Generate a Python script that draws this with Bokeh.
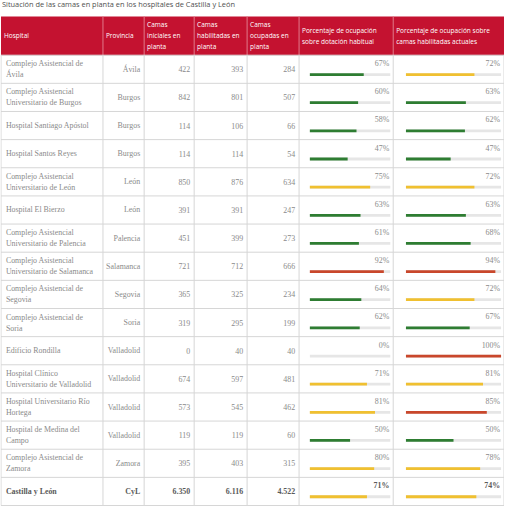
from bokeh.plotting import figure
from bokeh.models import Range1d, ColumnDataSource
from bokeh.core.properties import value
from bokeh.embed import file_html
from bokeh.resources import INLINE

# ---------------- data ----------------
title = "Situación de las camas en planta en los hospitales de Castilla y León"
headers = [
    ["Hospital"],
    ["Provincia"],
    ["Camas", "iniciales en", "planta"],
    ["Camas", "habilitadas en", "planta"],
    ["Camas", "ocupadas en", "planta"],
    ["Porcentaje de ocupación", "sobre dotación habitual"],
    ["Porcentaje de ocupación sobre", "camas habilitadas actuales"],
]
hospitals = [
    "Complejo Asistencial de Ávila",
    "Complejo Asistencial Universitario de Burgos",
    "Hospital Santiago Apóstol",
    "Hospital Santos Reyes",
    "Complejo Asistencial Universitario de León",
    "Hospital El Bierzo",
    "Complejo Asistencial Universitario de Palencia",
    "Complejo Asistencial Universitario de Salamanca",
    "Complejo Asistencial de Segovia",
    "Complejo Asistencial de Soria",
    "Edificio Rondilla",
    "Hospital Clínico Universitario de Valladolid",
    "Hospital Universitario Río Hortega",
    "Hospital de Medina del Campo",
    "Complejo Asistencial de Zamora",
    "Castilla y León",
]
provinces = ["Ávila", "Burgos", "Burgos", "Burgos", "León", "León", "Palencia",
             "Salamanca", "Segovia", "Soria", "Valladolid", "Valladolid",
             "Valladolid", "Valladolid", "Zamora", "CyL"]
beds_initial = [422, 842, 114, 114, 850, 391, 451, 721, 365, 319, 0, 674, 573, 119, 395, 6350]
beds_enabled = [393, 801, 106, 114, 876, 391, 399, 712, 325, 295, 40, 597, 545, 119, 403, 6116]
beds_occupied = [284, 507, 66, 54, 634, 247, 273, 666, 234, 199, 40, 481, 462, 60, 315, 4522]
pct_usual = [67, 60, 58, 47, 75, 63, 61, 92, 64, 62, 0, 71, 81, 50, 80, 71]
pct_enabled = [72, 63, 62, 47, 72, 63, 68, 94, 72, 67, 100, 81, 85, 50, 78, 74]

# ---------------- style / layout ----------------
RED = "#c41230"
GREEN = "#2e7d32"
YELLOW = "#f0c030"
ORANGE = "#c9472b"
TRACK = "#e6e6e6"
GRID = "#d6d6d6"
TXT = "#8a8a8a"
SERIF = value("Liberation Serif")
SANS = value("Open Sans")

col_edges = [3, 107, 149, 200, 254, 307, 403, 516]
head_top, head_bot = 22, 61
n = len(hospitals)
row_h = (514 - head_bot) / n
row_tops = [head_bot + i * row_h for i in range(n)]


def wrap(s, maxc=27):
    words, lines, cur = s.split(), [], ""
    for w in words:
        if cur and len(cur) + 1 + len(w) > maxc:
            lines.append(cur)
            cur = w
        else:
            cur = (cur + " " + w).strip()
    lines.append(cur)
    return lines


def fmt(v):
    return f"{v:,}".replace(",", ".")


def color(p):
    if p >= 85:
        return ORANGE
    if p >= 70:
        return YELLOW
    return GREEN


p = figure(width=504, height=507, output_backend="svg", toolbar_location=None,
           x_range=Range1d(2.5, 516.5), y_range=Range1d(516, 6), min_border=0)
p.axis.visible = False
p.grid.visible = False
p.outline_line_color = None
p.background_fill_color = "white"
p.border_fill_color = "white"

# title
p.text(x=[4], y=[10], text=[title], text_font=SANS, text_font_size="7.4px",
       text_color="#505050", text_baseline="middle", text_font_style="normal")

# header band
p.quad(left=[col_edges[0]], right=[col_edges[-1]], top=[head_top], bottom=[head_bot],
       fill_color=RED, line_color=None)
# header separators
p.segment(x0=col_edges[1:-1], x1=col_edges[1:-1], y0=[head_top] * 6, y1=[head_bot] * 6,
          line_color="#e07a8a", line_width=1)

hx, hy, ht = [], [], []
for ci, lines in enumerate(headers):
    k = len(lines)
    for li, line in enumerate(lines):
        hx.append(col_edges[ci] + 3)
        hy.append((head_top + head_bot) / 2 + (li - (k - 1) / 2) * 11)
        ht.append(line)
p.text(x=hx, y=hy, text=ht, text_font=SANS, text_font_size="6.5px",
       text_color="white", text_baseline="middle")

# body grid
xs0 = [col_edges[0]] * (n + 1)
xs1 = [col_edges[-1]] * (n + 1)
ys = [head_bot + i * row_h for i in range(n + 1)]
p.segment(x0=xs0, x1=xs1, y0=ys, y1=ys, line_color=GRID, line_width=1)
p.segment(x0=col_edges, x1=col_edges, y0=[head_bot] * len(col_edges),
          y1=[ys[-1]] * len(col_edges), line_color=GRID, line_width=1)

# body text
nx, ny, nt, nst, nc = [], [], [], [], []
rx, ry, rt, rst, rc = [], [], [], [], []
for i in range(n):
    top = row_tops[i]
    mid = top + row_h / 2
    total = i == n - 1
    style = "bold" if total else "normal"
    col = "#5a5a5a" if total else TXT
    lines = wrap(hospitals[i])
    k = len(lines)
    for li, line in enumerate(lines):
        nx.append(col_edges[0] + 5)
        ny.append(mid + (li - (k - 1) / 2) * 11)
        nt.append(line)
        nst.append(style)
        nc.append(col)
    vals = [provinces[i], fmt(beds_initial[i]), fmt(beds_enabled[i]), fmt(beds_occupied[i])]
    for cj, v in enumerate(vals):
        rx.append(col_edges[cj + 2] - 4)
        ry.append(mid)
        rt.append(v)
        rst.append(style)
        rc.append(col)
    for cj, pc in ((5, pct_usual[i]), (6, pct_enabled[i])):
        rx.append(col_edges[cj + 1] - 4)
        ry.append(top + 8.5)
        rt.append(f"{pc}%")
        rst.append(style)
        rc.append(col)

p.text(x="x", y="y", text="t", text_font_style="s", text_color="c",
       source=ColumnDataSource(dict(x=nx, y=ny, t=nt, s=nst, c=nc)),
       text_font=SERIF, text_font_size="7.9px", text_baseline="middle")
p.text(x="x", y="y", text="t", text_font_style="s", text_color="c",
       source=ColumnDataSource(dict(x=rx, y=ry, t=rt, s=rst, c=rc)),
       text_font=SERIF, text_font_size="7.9px", text_baseline="middle",
       text_align="right")

# bars
for cj, pcts in ((5, pct_usual), (6, pct_enabled)):
    x0 = col_edges[cj] + (11 if cj == 5 else 13)
    x1 = col_edges[cj + 1] - 3
    w = x1 - x0
    ybar = [t + 19.5 for t in row_tops]
    p.hbar(y=ybar, left=[x0] * n, right=[x1] * n, height=2.8,
           fill_color=TRACK, line_color=None)
    src = ColumnDataSource(dict(y=ybar, l=[x0] * n, r=[x0 + w * v / 100 for v in pcts],
                                c=[color(v) for v in pcts]))
    p.hbar(y="y", left="l", right="r", height=2.8, fill_color="c", line_color=None, source=src)

open("out.html", "w").write(file_html(p, INLINE))
